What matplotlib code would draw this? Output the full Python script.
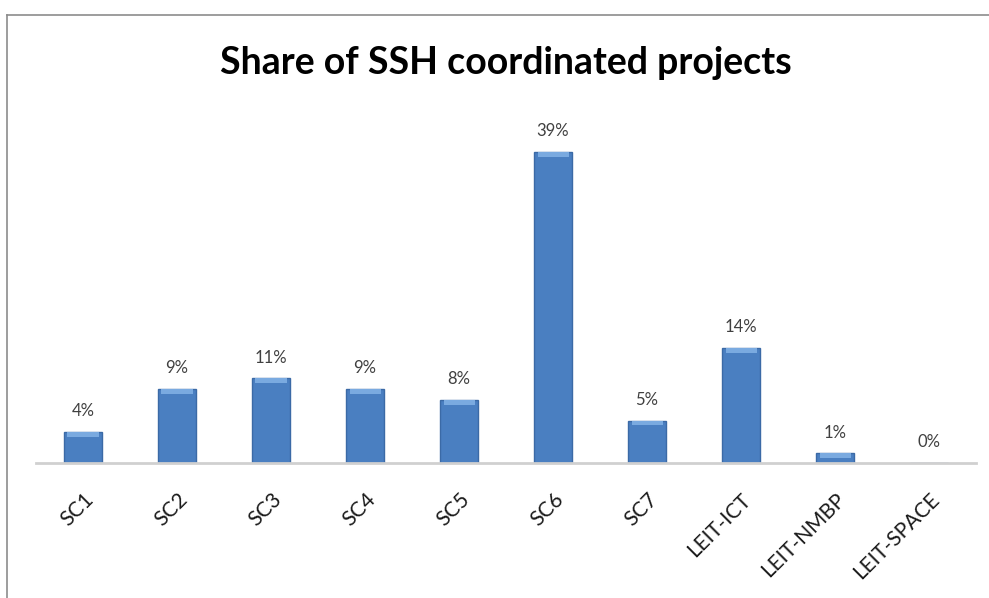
import matplotlib.pyplot as plt
from matplotlib.lines import Line2D

# Share of SSH coordinated projects per programme part
categories = ["SC1", "SC2", "SC3", "SC4", "SC5", "SC6", "SC7",
              "LEIT-ICT", "LEIT-NMBP", "LEIT-SPACE"]
shares = [3.9, 9.3, 10.6, 9.3, 7.9, 39.0, 5.3, 14.4, 1.2, 0.0]
labels = [f"{v:.0f}%" for v in shares]

plt.rcParams["font.family"] = ["Lato", "DejaVu Sans"]

fig = plt.figure(figsize=(9.89, 5.98), dpi=100)
ax = fig.add_axes([0.0364, 0.2258, 0.9505, 0.60])

x = range(len(categories))
ax.bar(x, shares, width=0.41, color="#4a7fc1", edgecolor="#3b6aa6", linewidth=1.0, zorder=2)
# lighter bevel strip at the top of each bar
ax.bar(x, [min(v, 0.6) for v in shares], bottom=[max(v - 0.6, 0) for v in shares],
       width=0.33, color="#7aaae0", linewidth=0, zorder=3)

for i, (v, lab) in enumerate(zip(shares, labels)):
    ax.text(i, v + 1.6, lab, ha="center", va="bottom", fontsize=12, color="#404040")

ax.set_xlim(-0.5, len(categories) - 0.5)
ax.set_ylim(0, 45)
ax.set_xticks(list(x))
ax.set_xticklabels(categories, rotation=45, ha="right", rotation_mode="anchor",
                   fontsize=15, color="#1a1a1a")
ax.tick_params(axis="x", length=0, pad=19)
ax.set_yticks([])
for side in ["top", "right", "left"]:
    ax.spines[side].set_visible(False)
ax.spines["bottom"].set_color("#d0d0d0")
ax.spines["bottom"].set_linewidth(2)

fig.text(0.511, 0.895, "Share of SSH coordinated projects", ha="center", va="center",
         fontsize=27, fontweight="bold", color="#000000")

# chart area border (top and left edges visible in the crop)
fig.add_artist(Line2D([7 / 989, 1], [1 - 15 / 598, 1 - 15 / 598], color="#8c8c8c", lw=1.2))
fig.add_artist(Line2D([7 / 989, 7 / 989], [0, 1 - 15 / 598], color="#8c8c8c", lw=1.2))

fig.savefig("out.png", dpi=100)
